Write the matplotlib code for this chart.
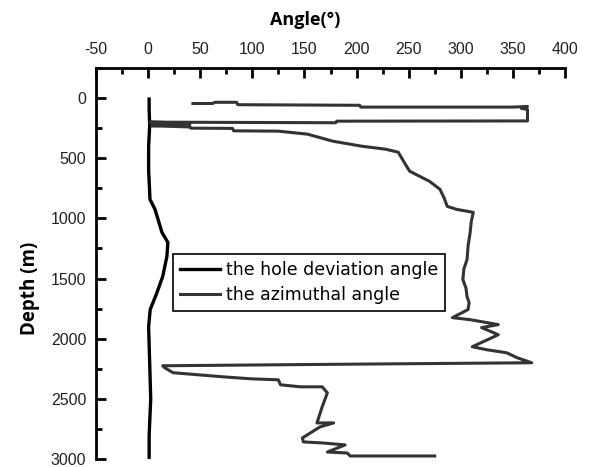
import matplotlib
matplotlib.use("Agg")
import matplotlib.pyplot as plt
from matplotlib.ticker import MultipleLocator

plt.rcParams['axes.unicode_minus'] = False

# hole deviation angle (deg) vs depth (m)
dev_depth = [8, 100, 230, 400, 600, 842, 925, 1008, 1117, 1200, 1317, 1483, 1617,
             1758, 1900, 2200, 2500, 2800, 2990]
dev_angle = [1, 1, 1.5, 0.5, 0.5, 1.8, 6.6, 9.5, 13.3, 19, 18, 14, 8.5,
             2, 0.5, 1.5, 2.5, 1, 1]

# azimuthal angle (deg) vs depth (m)
az_angle = [43, 62, 64, 85, 86, 203, 204, 349, 364, 358, 364, 364, 181, 180,
            2, 40, 5, 40, 3, 40, 41, 81, 82, 125, 153, 177, 205, 228, 240,
            248, 251, 270, 280, 284, 287, 296, 312, 310, 309, 307, 306, 303,
            302, 305, 306, 308, 307, 292, 309, 336, 320, 336, 311, 325, 344,
            354, 368, 191, 14, 16, 24, 48, 72, 98, 125, 127, 146, 167, 172,
            167, 162, 178, 165, 148, 149, 168, 189, 172, 191, 194, 275]
az_depth = [45, 45, 35, 35, 55, 60, 75, 75, 70, 85, 95, 190, 192, 205,
            200, 208, 215, 222, 230, 240, 250, 252, 272, 275, 300, 358, 400, 425, 450,
            567, 608, 692, 758, 830, 900, 925, 950, 1030, 1117, 1230, 1342, 1420,
            1508, 1580, 1650, 1700, 1758, 1825, 1842, 1883, 1908, 1967, 2067, 2092, 2117,
            2158, 2200, 2212, 2225, 2242, 2283, 2300, 2317, 2333, 2342, 2383, 2400, 2400, 2450,
            2567, 2700, 2700, 2733, 2825, 2858, 2867, 2883, 2942, 2950, 2975, 2975]

fig = plt.figure(figsize=(5.93, 4.67), dpi=100)
ax = fig.add_axes([96 / 593, 1 - 459 / 467, (565 - 96) / 593, (459 - 68) / 467])

ax.plot(dev_angle, dev_depth, color='black', lw=2.4, label='the hole deviation angle')
ax.plot(az_angle, az_depth, color='#333333', lw=2.2, label='the azimuthal angle')

ax.set_xlim(-50, 400)
ax.set_ylim(3000, -250)

ax.xaxis.tick_top()
ax.set_xticks(range(-50, 401, 50))
ax.set_yticks(range(0, 3001, 500))
ax.xaxis.set_minor_locator(MultipleLocator(25))
ax.yaxis.set_minor_locator(MultipleLocator(250))

for s in ['right', 'bottom']:
    ax.spines[s].set_visible(False)
for s in ['top', 'left']:
    ax.spines[s].set_linewidth(2)

ax.tick_params(which='major', direction='in', length=7, width=2, pad=7)
ax.tick_params(which='minor', direction='in', length=4, width=2)
ax.tick_params(axis='x', which='both', top=True, bottom=False)
ax.tick_params(axis='x', pad=8)
for lab in ax.get_xticklabels() + ax.get_yticklabels():
    lab.set_family('Liberation Sans')
    lab.set_fontsize(11.5)
    lab.set_color('#222222')

fig.text(305 / 593, 1 - 20 / 467, 'Angle(°)', ha='center', va='center',
         fontsize=13, fontweight='bold', family='Open Sans')
fig.text(30 / 593, 1 - 288 / 467, 'Depth (m)', ha='center', va='center',
         rotation=90, fontsize=13.5, fontweight='bold', family='Open Sans')

leg = ax.legend(loc='upper left', bbox_to_anchor=(0.164, 0.525), frameon=True,
                fancybox=False, edgecolor='black', framealpha=1,
                prop={'family': 'DejaVu Sans', 'size': 12.5},
                handlelength=2.3, borderpad=0.4, labelspacing=0.45,
                handletextpad=0.35, borderaxespad=0)
leg.get_frame().set_linewidth(1.2)

fig.savefig('out.png', dpi=100)
